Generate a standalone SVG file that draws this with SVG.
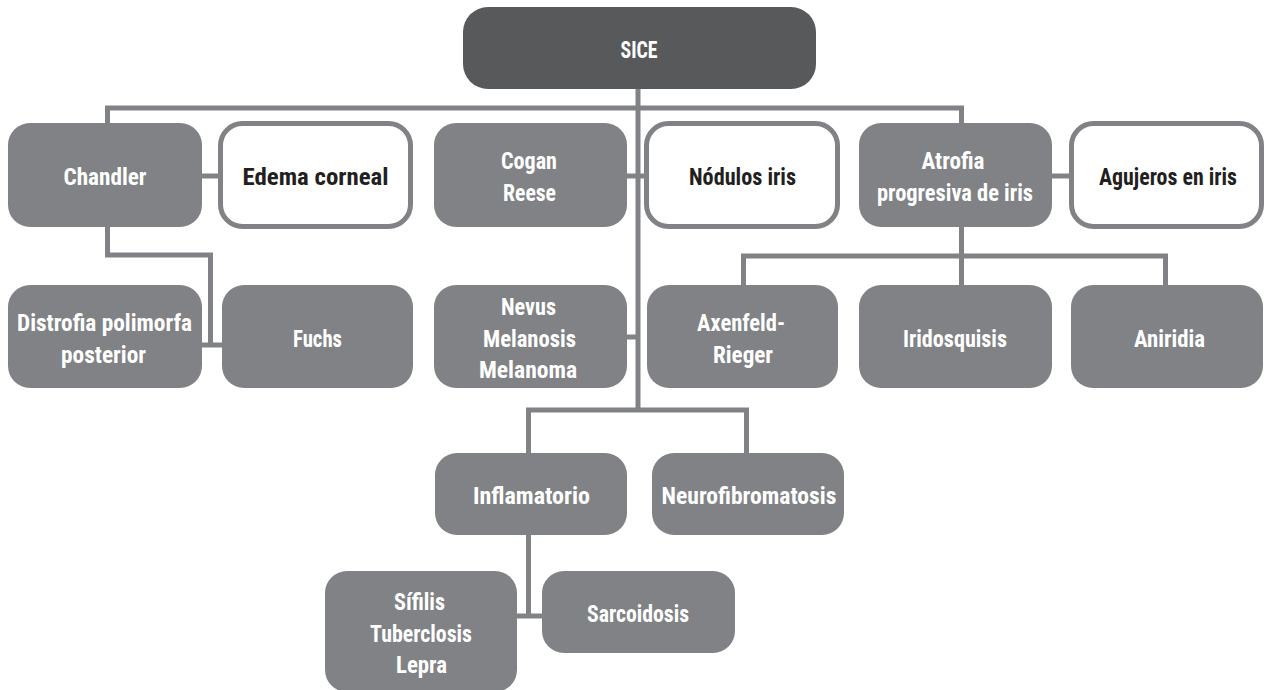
<svg xmlns="http://www.w3.org/2000/svg" width="1265" height="690" viewBox="0 0 1265 690">
<style>
.box{fill:#808285}
.root{fill:#58595b}
.out{fill:#ffffff;stroke:#808285;stroke-width:5}
.conn{fill:none;stroke:#808285;stroke-width:5}
text{font-family:"Liberation Sans Narrow","Roboto Condensed","DejaVu Sans Condensed","Liberation Sans",sans-serif;font-stretch:condensed;font-weight:bold;font-size:24.5px;text-anchor:middle}
.w{fill:#ffffff}
.k{fill:#231f20}
</style>
<rect width="1265" height="690" fill="#ffffff"/>
<g id="connectors">
<path class="conn" d="M638 89 V410"/>
<path class="conn" d="M107.5 123 V108 H961.5 V123"/>
<path class="conn" d="M202 176 H220"/>
<path class="conn" d="M627 176 H646"/>
<path class="conn" d="M1052 176 H1071"/>
<path class="conn" d="M107.5 227 V255 H210.5 V345"/>
<path class="conn" d="M202 345 H222"/>
<path class="conn" d="M961.5 227 V285"/>
<path class="conn" d="M743.5 285 V256 H1165.5 V285"/>
<path class="conn" d="M627 337 H638"/>
<path class="conn" d="M528.5 453 V410 H746.5 V453"/>
<path class="conn" d="M528.5 535 V616"/>
<path class="conn" d="M517 616 H542"/>
</g>
<g id="n-sice"><rect class="root" x="463" y="7" width="353" height="82" rx="25"/><text class="w" x="639" y="58" textLength="37" lengthAdjust="spacingAndGlyphs">SICE</text></g>
<g id="n-chandler"><rect class="box" x="8" y="123" width="194" height="104" rx="22"/><text class="w" x="105" y="185" textLength="83" lengthAdjust="spacingAndGlyphs">Chandler</text></g>
<g id="n-edema"><rect class="out" x="220.5" y="123.5" width="190" height="103" rx="22"/><text class="k" x="315.5" y="185" textLength="146" lengthAdjust="spacingAndGlyphs">Edema corneal</text></g>
<g id="n-cogan"><rect class="box" x="434" y="123" width="193" height="104" rx="22"/><text class="w" x="529" y="169" textLength="56" lengthAdjust="spacingAndGlyphs">Cogan</text><text class="w" x="529.5" y="201" textLength="53" lengthAdjust="spacingAndGlyphs">Reese</text></g>
<g id="n-nodulos"><rect class="out" x="646.5" y="123.5" width="191" height="103" rx="22"/><text class="k" x="742.5" y="185" textLength="107" lengthAdjust="spacingAndGlyphs">Nódulos iris</text></g>
<g id="n-atrofia"><rect class="box" x="859" y="123" width="193" height="104" rx="22"/><text class="w" x="953" y="169" textLength="63" lengthAdjust="spacingAndGlyphs">Atrofia</text><text class="w" x="955" y="201" textLength="156" lengthAdjust="spacingAndGlyphs">progresiva de iris</text></g>
<g id="n-agujeros"><rect class="out" x="1071.5" y="123.5" width="190" height="103" rx="22"/><text class="k" x="1168" y="185" textLength="138" lengthAdjust="spacingAndGlyphs">Agujeros en iris</text></g>
<g id="n-distrofia"><rect class="box" x="8" y="285" width="194" height="103" rx="22"/><text class="w" x="104.5" y="331" textLength="175" lengthAdjust="spacingAndGlyphs">Distrofia polimorfa</text><text class="w" x="103.5" y="363" textLength="85" lengthAdjust="spacingAndGlyphs">posterior</text></g>
<g id="n-fuchs"><rect class="box" x="222" y="285" width="191" height="103" rx="22"/><text class="w" x="317.5" y="347" textLength="49" lengthAdjust="spacingAndGlyphs">Fuchs</text></g>
<g id="n-nevus"><rect class="box" x="434" y="285" width="193" height="103" rx="22"/><text class="w" x="528.5" y="315" textLength="55" lengthAdjust="spacingAndGlyphs">Nevus</text><text class="w" x="529.5" y="347" textLength="93" lengthAdjust="spacingAndGlyphs">Melanosis</text><text class="w" x="528" y="378" textLength="98" lengthAdjust="spacingAndGlyphs">Melanoma</text></g>
<g id="n-axenfeld"><rect class="box" x="647" y="285" width="191" height="103" rx="22"/><text class="w" x="741" y="331" textLength="88" lengthAdjust="spacingAndGlyphs">Axenfeld-</text><text class="w" x="743" y="363" textLength="60" lengthAdjust="spacingAndGlyphs">Rieger</text></g>
<g id="n-iridosquisis"><rect class="box" x="859" y="285" width="193" height="103" rx="22"/><text class="w" x="955" y="347" textLength="104" lengthAdjust="spacingAndGlyphs">Iridosquisis</text></g>
<g id="n-aniridia"><rect class="box" x="1071" y="285" width="192" height="103" rx="22"/><text class="w" x="1169.5" y="347" textLength="71" lengthAdjust="spacingAndGlyphs">Aniridia</text></g>
<g id="n-inflamatorio"><rect class="box" x="435" y="453" width="192" height="82" rx="22"/><text class="w" x="531.5" y="504" textLength="117" lengthAdjust="spacingAndGlyphs">Inflamatorio</text></g>
<g id="n-neuro"><rect class="box" x="652" y="453" width="192" height="82" rx="22"/><text class="w" x="749" y="504" textLength="175" lengthAdjust="spacingAndGlyphs">Neurofibromatosis</text></g>
<g id="n-sifilis"><rect class="box" x="325" y="571" width="192" height="121" rx="22"/><text class="w" x="419.5" y="610" textLength="51" lengthAdjust="spacingAndGlyphs">Sífilis</text><text class="w" x="421" y="642" textLength="102" lengthAdjust="spacingAndGlyphs">Tuberclosis</text><text class="w" x="421.5" y="673" textLength="51" lengthAdjust="spacingAndGlyphs">Lepra</text></g>
<g id="n-sarcoidosis"><rect class="box" x="542" y="571" width="193" height="82" rx="22"/><text class="w" x="638" y="622" textLength="102" lengthAdjust="spacingAndGlyphs">Sarcoidosis</text></g>
</svg>
